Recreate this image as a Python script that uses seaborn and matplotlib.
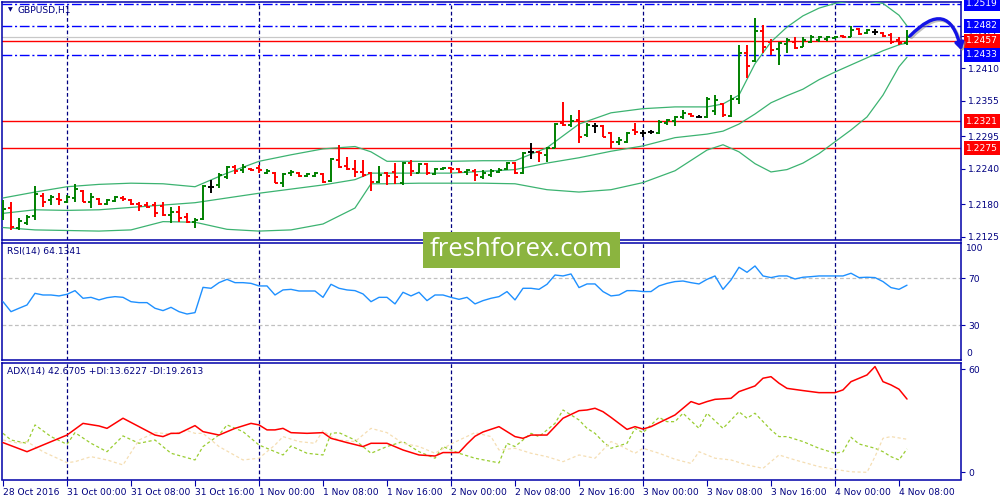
"""GBPUSD H1 chart with Bollinger bands, RSI and ADX panels"""
# Third party imports
import matplotlib
matplotlib.use("Agg")
import matplotlib.pyplot as plt
import matplotlib.transforms as mtransforms
from matplotlib.patches import FancyArrowPatch, Rectangle
import numpy as np
import pandas as pd
import seaborn as sns

# Module level constants
SYMBOL = "GBPUSD,H1"
TIME_LABELS = ["28 Oct 2016", "31 Oct 00:00", "31 Oct 08:00", "31 Oct 16:00",
               "1 Nov 00:00", "1 Nov 08:00", "1 Nov 16:00", "2 Nov 00:00",
               "2 Nov 08:00", "2 Nov 16:00", "3 Nov 00:00", "3 Nov 08:00",
               "3 Nov 16:00", "4 Nov 00:00", "4 Nov 08:00"]
BARS_PER_LABEL = 8

OPEN = [1.2162, 1.2174, 1.2141, 1.2149, 1.2161, 1.2195, 1.2188, 1.2190, 1.2184, 1.2191,
        1.2203, 1.2184, 1.2190, 1.2181, 1.2186, 1.2191, 1.2188, 1.2181, 1.2179, 1.2179,
        1.2178, 1.2162, 1.2168, 1.2159, 1.2151, 1.2156, 1.2210, 1.2213, 1.2227, 1.2244,
        1.2239, 1.2240, 1.2242, 1.2233, 1.2233, 1.2217, 1.2233, 1.2233, 1.2228, 1.2228,
        1.2232, 1.2220, 1.2255, 1.2245, 1.2240, 1.2235, 1.2233, 1.2218, 1.2233, 1.2235,
        1.2217, 1.2250, 1.2233, 1.2249, 1.2232, 1.2240, 1.2242, 1.2240, 1.2235, 1.2237,
        1.2227, 1.2230, 1.2235, 1.2240, 1.2250, 1.2233, 1.2269, 1.2269, 1.2264, 1.2276,
        1.2318, 1.2315, 1.2323, 1.2298, 1.2313, 1.2313, 1.2301, 1.2286, 1.2286, 1.2306,
        1.2301, 1.2303, 1.2301, 1.2318, 1.2321, 1.2328, 1.2333, 1.2328, 1.2328, 1.2338,
        1.2350, 1.2330, 1.2359, 1.2436, 1.2423, 1.2473, 1.2455, 1.2443, 1.2451, 1.2455,
        1.2446, 1.2455, 1.2458, 1.2460, 1.2462, 1.2465, 1.2463, 1.2477, 1.2470, 1.2472,
        1.2470, 1.2467, 1.2458, 1.2453]
HIGH = [1.2188, 1.2184, 1.2157, 1.2162, 1.2211, 1.2200, 1.2196, 1.2200, 1.2196, 1.2215,
        1.2205, 1.2200, 1.2191, 1.2190, 1.2195, 1.2195, 1.2190, 1.2184, 1.2184, 1.2184,
        1.2184, 1.2176, 1.2178, 1.2166, 1.2157, 1.2213, 1.2222, 1.2233, 1.2245, 1.2247,
        1.2249, 1.2242, 1.2247, 1.2240, 1.2235, 1.2233, 1.2239, 1.2235, 1.2233, 1.2235,
        1.2233, 1.2259, 1.2281, 1.2261, 1.2255, 1.2255, 1.2235, 1.2245, 1.2235, 1.2250,
        1.2252, 1.2255, 1.2250, 1.2250, 1.2242, 1.2244, 1.2244, 1.2242, 1.2240, 1.2240,
        1.2239, 1.2240, 1.2242, 1.2252, 1.2252, 1.2269, 1.2284, 1.2271, 1.2277, 1.2318,
        1.2353, 1.2331, 1.2340, 1.2318, 1.2318, 1.2315, 1.2303, 1.2294, 1.2303, 1.2318,
        1.2306, 1.2306, 1.2323, 1.2325, 1.2330, 1.2340, 1.2335, 1.2331, 1.2362, 1.2365,
        1.2352, 1.2365, 1.2450, 1.2450, 1.2495, 1.2484, 1.2460, 1.2455, 1.2462, 1.2463,
        1.2463, 1.2467, 1.2465, 1.2465, 1.2465, 1.2467, 1.2482, 1.2478, 1.2477, 1.2477,
        1.2472, 1.2470, 1.2463, 1.2475]
LOW = [1.2154, 1.2137, 1.2137, 1.2146, 1.2154, 1.2176, 1.2179, 1.2179, 1.2183, 1.2184,
       1.2184, 1.2174, 1.2179, 1.2179, 1.2184, 1.2186, 1.2179, 1.2169, 1.2174, 1.2159,
       1.2161, 1.2149, 1.2151, 1.2149, 1.2141, 1.2154, 1.2200, 1.2208, 1.2223, 1.2232,
       1.2233, 1.2237, 1.2233, 1.2232, 1.2217, 1.2210, 1.2228, 1.2227, 1.2227, 1.2227,
       1.2217, 1.2218, 1.2242, 1.2239, 1.2227, 1.2227, 1.2203, 1.2217, 1.2213, 1.2215,
       1.2213, 1.2228, 1.2233, 1.2230, 1.2230, 1.2239, 1.2233, 1.2233, 1.2230, 1.2220,
       1.2223, 1.2227, 1.2233, 1.2239, 1.2232, 1.2232, 1.2257, 1.2252, 1.2252, 1.2276,
       1.2313, 1.2311, 1.2284, 1.2294, 1.2301, 1.2294, 1.2276, 1.2281, 1.2284, 1.2298,
       1.2294, 1.2299, 1.2299, 1.2315, 1.2313, 1.2325, 1.2328, 1.2326, 1.2326, 1.2331,
       1.2328, 1.2328, 1.2350, 1.2394, 1.2421, 1.2436, 1.2433, 1.2416, 1.2436, 1.2443,
       1.2446, 1.2453, 1.2455, 1.2457, 1.2460, 1.2462, 1.2463, 1.2467, 1.2468, 1.2467,
       1.2463, 1.2451, 1.2450, 1.2450]
CLOSE = [1.2173, 1.2142, 1.2152, 1.2159, 1.2198, 1.2184, 1.2193, 1.2188, 1.2193, 1.2206,
         1.2184, 1.2193, 1.2181, 1.2188, 1.2193, 1.2190, 1.2181, 1.2178, 1.2176, 1.2166,
         1.2162, 1.2168, 1.2157, 1.2151, 1.2154, 1.2211, 1.2210, 1.2230, 1.2244, 1.2237,
         1.2244, 1.2239, 1.2239, 1.2237, 1.2217, 1.2232, 1.2235, 1.2228, 1.2232, 1.2233,
         1.2218, 1.2257, 1.2244, 1.2240, 1.2235, 1.2230, 1.2218, 1.2230, 1.2228, 1.2227,
         1.2250, 1.2237, 1.2249, 1.2233, 1.2240, 1.2242, 1.2240, 1.2235, 1.2239, 1.2230,
         1.2233, 1.2237, 1.2239, 1.2250, 1.2233, 1.2267, 1.2269, 1.2267, 1.2276, 1.2316,
         1.2315, 1.2321, 1.2294, 1.2315, 1.2313, 1.2294, 1.2286, 1.2289, 1.2301, 1.2303,
         1.2301, 1.2303, 1.2320, 1.2323, 1.2328, 1.2335, 1.2330, 1.2328, 1.2359, 1.2357,
         1.2331, 1.2359, 1.2436, 1.2414, 1.2473, 1.2446, 1.2441, 1.2453, 1.2458, 1.2445,
         1.2458, 1.2463, 1.2463, 1.2463, 1.2463, 1.2463, 1.2475, 1.2468, 1.2475, 1.2472,
         1.2465, 1.2455, 1.2453, 1.2463]

# Bollinger band (20) vertices, read at these bars
BB_BARS = [0, 4, 8, 12, 16, 20, 24, 28, 32, 36, 40, 44, 46, 48, 52, 56, 60, 64, 68, 72,
           76, 80, 84, 88, 90, 92, 94, 96, 98, 100, 102, 104, 106, 108, 110, 112, 113]
BB_UPPER = [1.2191, 1.2201, 1.2210, 1.2214, 1.2216, 1.2215, 1.2210, 1.2233, 1.2253, 1.2264,
            1.2274, 1.2278, 1.2269, 1.2253, 1.2253, 1.2253, 1.2254, 1.2254, 1.2276, 1.2316,
            1.2335, 1.2342, 1.2345, 1.2345, 1.2350, 1.2365, 1.2418, 1.2455, 1.2480, 1.2499,
            1.2512, 1.2520, 1.2524, 1.2524, 1.2520, 1.2500, 1.2482]
BB_MIDDLE = [1.2165, 1.2171, 1.2170, 1.2171, 1.2175, 1.2179, 1.2183, 1.2191, 1.2199, 1.2206,
             1.2213, 1.2222, 1.2233, 1.2233, 1.2233, 1.2233, 1.2236, 1.2239, 1.2250, 1.2259,
             1.2270, 1.2279, 1.2293, 1.2299, 1.2304, 1.2316, 1.2333, 1.2352, 1.2364, 1.2375,
             1.2391, 1.2404, 1.2416, 1.2428, 1.2440, 1.2450, 1.2453]
BB_LOWER = [1.2141, 1.2137, 1.2136, 1.2135, 1.2137, 1.2151, 1.2150, 1.2138, 1.2135, 1.2137,
            1.2147, 1.2174, 1.2215, 1.2215, 1.2216, 1.2216, 1.2216, 1.2215, 1.2205, 1.2201,
            1.2205, 1.2217, 1.2237, 1.2272, 1.2281, 1.2269, 1.2249, 1.2235, 1.2239, 1.2250,
            1.2266, 1.2286, 1.2306, 1.2328, 1.2365, 1.2413, 1.2429]

RSI = [50.1, 41.6, 44.5, 47.3, 57.2, 55.8, 55.8, 55.0, 56.4, 59.5,
       53.0, 53.8, 51.6, 53.5, 54.4, 53.8, 50.1, 49.3, 49.3, 44.5,
       42.5, 45.3, 41.6, 39.6, 40.8, 62.3, 61.5, 66.3, 69.1, 66.3,
       66.3, 65.7, 63.5, 63.5, 55.8, 60.1, 60.6, 59.2, 59.2, 59.2,
       53.8, 64.9, 61.5, 60.1, 59.5, 56.7, 50.1, 53.8, 53.8, 48.2,
       58.1, 55.0, 58.1, 51.0, 55.8, 55.8, 53.8, 52.1, 53.8, 48.2,
       51.0, 53.0, 54.4, 58.7, 51.6, 61.5, 61.5, 60.6, 64.9, 72.8,
       72.0, 73.7, 62.1, 65.2, 65.2, 58.7, 55.0, 55.8, 59.5, 59.5,
       58.7, 58.7, 63.5, 65.7, 67.2, 67.7, 66.3, 65.2, 69.1, 72.0,
       60.6, 68.6, 79.4, 75.1, 80.5, 72.0, 70.6, 72.0, 72.0, 69.4,
       70.9, 71.4, 72.0, 72.0, 72.0, 72.0, 74.3, 70.6, 70.9, 70.6,
       67.2, 62.1, 60.6, 64.1341]
RSI_LEVELS = [70, 30]

ADX_BARS = [0, 3, 5, 8, 10, 12, 13, 15, 17, 19, 20, 21, 22, 24, 25, 27, 29, 31, 32, 33,
            34, 35, 36, 38, 40, 41, 43, 45, 46, 48, 50, 52, 54, 55, 57, 58, 59, 60, 62, 64,
            65, 66, 68, 70, 72, 73, 74, 75, 76, 77, 78, 79, 80, 81, 84, 86, 87, 88, 89, 91,
            92, 94, 95, 96, 97, 98, 100, 102, 104, 105, 106, 108, 109, 110, 111, 112, 113]
ADX = [17.3, 12.0, 15.9, 21.7, 28.5, 27.0, 25.6, 31.5, 26.6, 21.7, 20.8, 22.7, 22.7, 27.2,
       23.7, 21.7, 25.6, 28.5, 27.6, 24.7, 24.7, 25.6, 23.1, 22.7, 23.1, 19.8, 17.3, 15.0,
       16.9, 16.9, 13.0, 10.1, 9.5, 11.5, 11.5, 16.5, 21.0, 23.5, 26.6, 20.8, 19.8, 21.7,
       21.7, 31.5, 35.9, 36.3, 37.3, 35.3, 32.0, 28.5, 25.0, 26.6, 25.2, 26.6, 33.4, 41.2,
       39.6, 41.2, 42.5, 43.1, 47.0, 50.3, 54.8, 55.7, 51.9, 48.9, 47.6, 46.4, 46.4, 48.0,
       52.8, 56.7, 61.6, 52.8, 50.9, 48.4, 42.6705]
PDI_BARS = [0, 1, 3, 4, 6, 8, 9, 11, 13, 15, 17, 19, 21, 24, 25, 27, 28, 30, 32, 35, 36,
            38, 40, 41, 42, 44, 46, 48, 50, 52, 54, 55, 57, 59, 62, 63, 64, 66, 67, 69, 70,
            72, 73, 74, 75, 76, 78, 79, 80, 82, 83, 84, 85, 87, 88, 90, 92, 93, 94, 96, 97,
            98, 100, 102, 104, 105, 106, 107, 109, 110, 111, 112, 113]
PDI = [22.7, 18.8, 16.9, 27.6, 20.8, 16.3, 23.1, 16.9, 12.0, 21.2, 16.9, 18.8, 11.1, 7.2,
       15.0, 21.7, 27.6, 23.7, 15.9, 10.1, 15.3, 11.1, 10.1, 22.7, 23.1, 18.8, 11.1, 15.0,
       17.9, 12.0, 8.2, 15.0, 11.1, 8.2, 5.5, 16.9, 15.0, 22.7, 20.8, 28.5, 36.3, 30.5,
       25.6, 22.7, 17.9, 14.0, 16.9, 25.6, 23.1, 32.0, 29.5, 29.5, 34.4, 25.6, 34.4, 25.6,
       35.3, 31.5, 34.4, 24.7, 20.8, 20.8, 17.9, 14.0, 11.1, 12.0, 20.4, 16.5, 14.0, 12.0,
       9.1, 7.2, 13.6227]
MDI_BARS = [0, 2, 3, 5, 8, 9, 11, 13, 15, 17, 19, 21, 23, 24, 25, 27, 30, 32, 34, 35, 37,
            39, 40, 41, 42, 44, 46, 48, 50, 52, 54, 56, 59, 61, 62, 64, 66, 68, 70, 72, 74,
            76, 77, 79, 80, 82, 84, 86, 87, 89, 91, 93, 95, 97, 99, 102, 104, 106, 108, 109,
            110, 111, 113]
MDI = [18.8, 16.9, 17.9, 12.0, 5.6, 6.2, 9.1, 7.2, 4.3, 18.8, 23.1, 22.3, 24.3, 22.7, 22.7,
       15.0, 7.2, 8.2, 15.9, 20.8, 17.9, 16.9, 24.3, 20.8, 18.8, 17.9, 25.6, 23.1, 16.9,
       15.0, 11.1, 16.5, 23.1, 20.8, 13.0, 14.0, 11.1, 9.1, 6.2, 10.1, 8.2, 17.9, 15.9,
       11.1, 14.0, 11.1, 7.6, 5.2, 12.0, 8.2, 7.2, 4.3, 2.3, 10.1, 7.2, 3.3, 1.7, 0.3, 0.0,
       9.1, 19.8, 20.8, 19.2613]

LEVELS_BLUE = [1.2519, 1.2482, 1.2433]
LEVELS_RED = [1.2457, 1.2321, 1.2275]
PRICE_TICKS = [1.2465, 1.2410, 1.2355, 1.2295, 1.2240, 1.2180, 1.2125]

NAVY = "#000080"
FRAME = "#0000a8"
UP, DOWN, FLAT = "#008000", "#ff0000", "#000000"
GRID_DASH = (0, (3, 2))

sns.set_theme(style="white")
plt.rcParams["font.family"] = ["DejaVu Sans"]
FS = 6.6

W, H = 1000, 500
fig = plt.figure(figsize=(W / 100, H / 100), dpi=100)


def px_axes(x0, y0, x1, y1):
    """Add axes given in pixel box (top-left origin)"""
    return fig.add_axes([x0 / W, 1 - y1 / H, (x1 - x0) / W, (y1 - y0) / H])


ax_main = px_axes(2, 2, 961, 240)
ax_rsi = px_axes(2, 242.5, 961, 360)
ax_adx = px_axes(2, 362.5, 961, 479.5)
axes = [ax_main, ax_rsi, ax_adx]

bars = pd.DataFrame({"open": OPEN, "high": HIGH, "low": LOW, "close": CLOSE})
bars["pos"] = np.arange(len(bars))
label_pos = np.arange(len(TIME_LABELS)) * BARS_PER_LABEL
day_pos = [p for p, lab in zip(label_pos, TIME_LABELS) if lab.endswith("00:00")]

for ax in axes:
    ax.set_xlim(-0.125, -0.125 + 959 / 8)
    for spine in ax.spines.values():
        spine.set_color(FRAME)
        spine.set_linewidth(1.1)
    ax.set_facecolor("white")
    for p in day_pos:
        ax.axvline(p, color=NAVY, ls=GRID_DASH, lw=0.9, zorder=1)
    ax.yaxis.tick_right()
    ax.tick_params(axis="y", direction="out", length=3, width=0.8, pad=2,
                   labelsize=FS, colors=FRAME, labelcolor=NAVY, left=False, right=True)

# ---- main price panel
ax = ax_main
ax.set_ylim(1.2125 - 3 * 0.0394 / 233, 1.2519 + 2 * 0.0394 / 233)
ax.axhline(CLOSE[-1], color="#c8c8c8", lw=0.9, zorder=1)
for lvl in LEVELS_BLUE:
    ax.axhline(lvl, color="#0000ff", ls=(0, (7, 2, 1.5, 2)), lw=1, zorder=2)
for lvl in LEVELS_RED:
    ax.axhline(lvl, color="#ff0000", lw=1, zorder=2)

for band in (BB_UPPER, BB_MIDDLE, BB_LOWER):
    sns.lineplot(x=BB_BARS, y=band, ax=ax, color="#3cb371", lw=0.9, zorder=3)

colors = np.where(bars["close"] > bars["open"], UP,
                  np.where(bars["close"] < bars["open"], DOWN, FLAT))
ax.vlines(bars["pos"], bars["low"], bars["high"], colors=colors, lw=1.4, zorder=4)
ax.hlines(bars["open"], bars["pos"] - 0.4, bars["pos"], colors=colors, lw=1.4, zorder=4)
ax.hlines(bars["close"], bars["pos"], bars["pos"] + 0.4, colors=colors, lw=1.4, zorder=4)

ax.set_yticks(PRICE_TICKS)
ax.set_yticklabels([f"{v:.4f}" for v in PRICE_TICKS])
ax.set_xticks([])
ax.set_xlabel("")
ax.set_ylabel("")

trans = mtransforms.blended_transform_factory(ax.transAxes, ax.transData)
for lvl, fc in [(v, "#0000ff") for v in LEVELS_BLUE] + [(v, "#ff0000") for v in LEVELS_RED]:
    ax.text(1.0055, lvl, f"{lvl:.4f}", transform=trans, ha="left", va="center",
            fontsize=FS, color="white", clip_on=False, zorder=20,
            bbox=dict(boxstyle="square,pad=0.28", fc=fc, ec="none"))

fig.text(8 / W, 1 - 10 / H, "\u25bc", fontsize=4.5, color=NAVY, ha="left", va="center")
fig.text(18 / W, 1 - 10 / H, SYMBOL, fontsize=FS, color=NAVY, ha="left", va="center")

# ---- RSI panel
ax = ax_rsi
ax.set_ylim(0.47, 100.47)
for lvl in RSI_LEVELS:
    ax.axhline(lvl, color="#c0c0c0", ls=GRID_DASH, lw=0.9, zorder=1)
sns.lineplot(x=bars["pos"], y=RSI, ax=ax, color="#1e90ff", lw=1, zorder=3)
ax.set_yticks(RSI_LEVELS)
ax.set_yticklabels([str(v) for v in RSI_LEVELS])
rsi_trans = mtransforms.blended_transform_factory(ax.transAxes, ax.transData)
ax.text(1.0055, 99, "100", transform=rsi_trans, ha="left", va="top", fontsize=FS, color=NAVY)
ax.text(1.0055, 2, "0", transform=rsi_trans, ha="left", va="bottom", fontsize=FS, color=NAVY)
ax.set_xticks([])
ax.set_xlabel("")
ax.set_ylabel("")
ax.text(0.0052, 0.925, f"RSI(14) {RSI[-1]:.4f}", transform=ax.transAxes, fontsize=FS,
        color=NAVY, ha="left", va="center")

# ---- ADX panel
ax = ax_adx
ax.set_ylim(-4.19, 63.96)
sns.lineplot(x=PDI_BARS, y=PDI, ax=ax, color="#9acd32", lw=0.9, ls=(0, (2.5, 2)), zorder=2)
sns.lineplot(x=MDI_BARS, y=MDI, ax=ax, color="#f5deb3", lw=0.9, ls=(0, (2.5, 2)), zorder=2)
sns.lineplot(x=ADX_BARS, y=ADX, ax=ax, color="#ff0000", lw=1.1, zorder=3)
ax.set_yticks([60, 0])
ax.set_yticklabels(["60", "0"])
ax.set_xticks(label_pos)
ax.set_xticklabels(TIME_LABELS)
for lab in ax.get_xticklabels():
    lab.set_horizontalalignment("left")
ax.tick_params(axis="x", direction="out", length=4, width=0.8, pad=2, labelsize=FS,
               colors=FRAME, labelcolor=NAVY, bottom=True)
ax.set_xlabel("")
ax.set_ylabel("")
ax.text(0.0052, 0.92, f"ADX(14) {ADX[-1]:.4f} +DI:{PDI[-1]:.4f} -DI:{MDI[-1]:.4f}",
        transform=ax.transAxes, fontsize=FS, color=NAVY, ha="left", va="center")

# ---- watermark
fig.patches.append(Rectangle((423 / W, 1 - 268 / H), 197 / W, 36 / H, transform=fig.transFigure,
                             facecolor="#8bb43f", edgecolor="none", zorder=10))
fig.text(521.5 / W, 1 - 250 / H, "freshforex.com", family="Open Sans", fontsize=18.5,
         color="white", ha="center", va="center", zorder=11)

# ---- hand drawn forecast arrow, with a soft grey copy behind it as shadow
for dx, dy, col, alpha, z in [(1.5, 1.5, "#8c8c8c", 0.55, 12), (0, 0, "#1414e6", 1.0, 13)]:
    arrow = FancyArrowPatch(((908 + dx) / W, 1 - (38 + dy) / H), ((962 + dx) / W, 1 - (53 + dy) / H),
                            transform=fig.transFigure, connectionstyle="arc3,rad=-0.95",
                            arrowstyle="-|>,head_length=4,head_width=2.5",
                            color=col, alpha=alpha, lw=2.4, zorder=z)
    fig.patches.append(arrow)

fig.savefig("out.png", dpi=100, facecolor="white")
